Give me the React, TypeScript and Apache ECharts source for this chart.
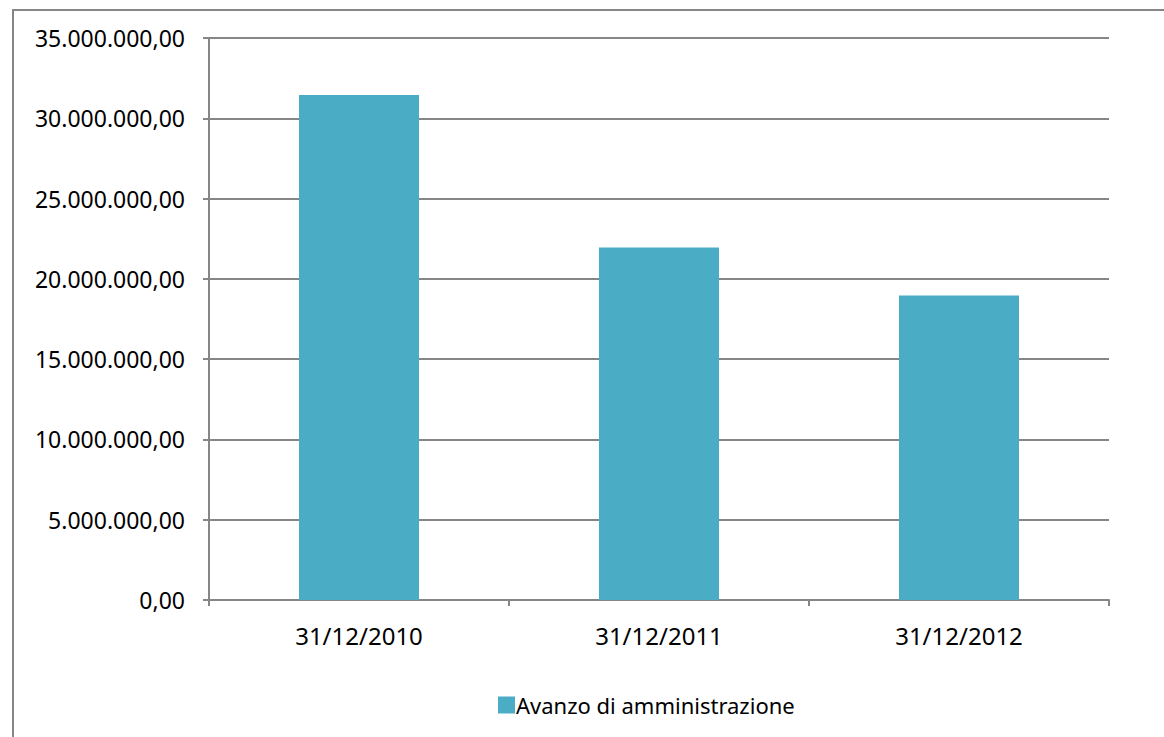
import React, { useEffect, useRef } from "react";
import * as echarts from "echarts";

const categories = ["31/12/2010", "31/12/2011", "31/12/2012"];
const seriesName = "Avanzo di amministrazione";
const values = [31450000, 21950000, 18970000];
const yMax = 35000000;
const yInterval = 5000000;

function fmt(v: number): string {
  const fixed = v.toFixed(2);
  const [intPart, dec] = fixed.split(".");
  const withDots = intPart.replace(/\B(?=(\d{3})+(?!\d))/g, ".");
  return withDots + "," + dec;
}

export default function App() {
  const ref = useRef<HTMLDivElement>(null);
  useEffect(() => {
    document.body.style.margin = "0";
    const chart = echarts.init(ref.current!, null, { renderer: "svg" });
    const gray = "#868686";
    const font = "Noto Sans";
    chart.setOption({
      animation: false,
      backgroundColor: "#ffffff",
      textStyle: { fontFamily: font },
      graphic: [
        {
          type: "rect",
          shape: { x: 13, y: 10, width: 1200, height: 800 },
          style: { fill: "none", stroke: gray, lineWidth: 2 },
          silent: true,
          z: -1,
        },
      ],
      grid: { left: 209, right: 55, top: 38, bottom: 137, containLabel: false },
      legend: {
        top: 689,
        left: 493,
        itemWidth: 17,
        itemHeight: 17,
        itemGap: 10,
        icon: "rect",
        textStyle: { fontFamily: font, fontSize: 22, color: "#000", padding: [0, 0, 0, -4] },
        data: [seriesName],
      },
      xAxis: {
        type: "category",
        data: categories,
        axisLine: { lineStyle: { color: gray, width: 2 } },
        axisTick: { show: true, length: 6, lineStyle: { color: gray, width: 2 } },
        axisLabel: { color: "#000", fontFamily: font, fontSize: 24, margin: 23 },
      },
      yAxis: {
        type: "value",
        min: 0,
        max: yMax,
        interval: yInterval,
        axisLine: { show: true, lineStyle: { color: gray, width: 2 } },
        axisTick: { show: true, length: 6, lineStyle: { color: gray, width: 2 } },
        splitLine: { show: true, lineStyle: { color: gray, width: 2 } },
        axisLabel: { color: "#000", fontFamily: font, fontSize: 23, margin: 24, formatter: (v: number) => fmt(v) },
      },
      series: [
        {
          name: seriesName,
          type: "bar",
          data: values,
          barWidth: "40%",
          itemStyle: { color: "#4BACC6" },
        },
      ],
    });
    return () => chart.dispose();
  }, []);
  return <div ref={ref} style={{ width: 1164, height: 737 }} />;
}
